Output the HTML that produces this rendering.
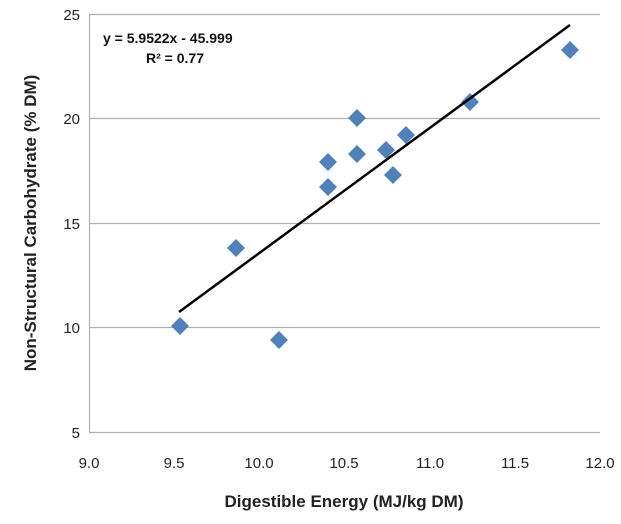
<!DOCTYPE html>
<html><head><style>body{margin:0;background:#fff}</style></head><body>
<svg width="621" height="519" xmlns="http://www.w3.org/2000/svg" font-family="Liberation Sans, sans-serif">
<rect width="621" height="519" fill="#fff"/>
<g stroke="#b0b0b0" stroke-width="1.2">
<line x1="89" y1="14.5" x2="600" y2="14.5"/>
<line x1="89" y1="118.5" x2="600" y2="118.5"/>
<line x1="89" y1="223.5" x2="600" y2="223.5"/>
<line x1="89" y1="327.5" x2="600" y2="327.5"/>
<line x1="89" y1="432.5" x2="600" y2="432.5"/>
<line x1="89.5" y1="14" x2="89.5" y2="432"/>
</g>
<g font-size="15" fill="#222" text-anchor="end">
<text x="80" y="20">25</text><text x="80" y="124">20</text><text x="80" y="229">15</text><text x="80" y="333">10</text><text x="80" y="438">5</text>
</g>
<g font-size="15" fill="#222" text-anchor="middle">
<text x="89" y="468">9.0</text><text x="174" y="468">9.5</text><text x="259" y="468">10.0</text><text x="344" y="468">10.5</text><text x="430" y="468">11.0</text><text x="515" y="468">11.5</text><text x="600" y="468">12.0</text>
</g>
<text x="344" y="507" font-size="17" font-weight="bold" text-anchor="middle" fill="#222">Digestible Energy (MJ/kg DM)</text>
<text transform="translate(36,223) rotate(-90)" font-size="17" font-weight="bold" text-anchor="middle" fill="#222">Non-Structural Carbohydrate (% DM)</text>
<text x="103" y="43" font-size="14" font-weight="bold" fill="#111">y = 5.9522x - 45.999</text>
<text x="146" y="63" font-size="14" font-weight="bold" fill="#111">R² = 0.77</text>
<g fill="#4f81bd">
<path d="M180 317l9 9-9 9-9-9z"/><path d="M236 239l9 9-9 9-9-9z"/><path d="M279 331l9 9-9 9-9-9z"/><path d="M328 153l9 9-9 9-9-9z"/><path d="M328 178l9 9-9 9-9-9z"/><path d="M357 109l9 9-9 9-9-9z"/><path d="M357 145l9 9-9 9-9-9z"/><path d="M386 141l9 9-9 9-9-9z"/><path d="M393 166l9 9-9 9-9-9z"/><path d="M406 126l9 9-9 9-9-9z"/><path d="M470 93l9 9-9 9-9-9z"/><path d="M570 41l9 9-9 9-9-9z"/>
</g>
<line x1="179" y1="312" x2="570" y2="25" stroke="#000" stroke-width="2.5"/>
</svg>
</body></html>
